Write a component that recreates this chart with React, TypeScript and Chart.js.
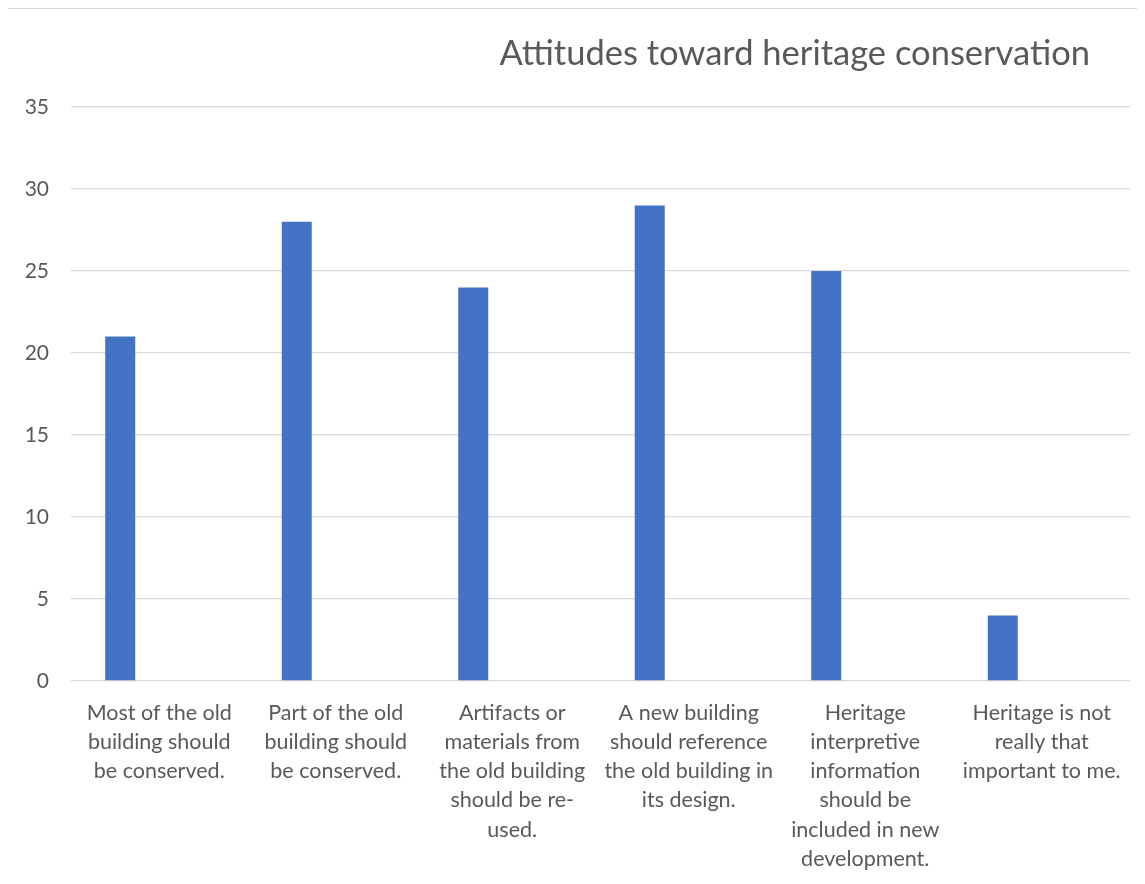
import React, { useEffect, useRef } from "react";
import { Chart, registerables } from "chart.js";

Chart.register(...registerables);

const chartTitle = "Attitudes toward heritage conservation";
const categories: string[][] = [
  ["Most of the old", "building should", "be conserved."],
  ["Part of the old", "building should", "be conserved."],
  ["Artifacts or", "materials from", "the old building", "should be re-", "used."],
  ["A new building", "should reference", "the old building in", "its design."],
  ["Heritage", "interpretive", "information", "should be", "included in new", "development."],
  ["Heritage is not", "really that", "important to me."],
];
const responses: number[] = [21, 28, 24, 29, 25, 4];
const emptySeries: (number | null)[] = [null, null, null, null, null, null];
const yTicks: number[] = [0, 5, 10, 15, 20, 25, 30, 35];

const FONT = "Lato, 'Open Sans', sans-serif";
const TEXT = "#595959";

export default function App() {
  const ref = useRef<HTMLCanvasElement | null>(null);
  useEffect(() => {
    if (!ref.current) return;
    const chart = new Chart(ref.current, {
      type: "bar",
      data: {
        labels: categories,
        datasets: [
          {
            label: "Responses",
            data: responses,
            backgroundColor: "#4472c4",
            categoryPercentage: 0.884,
            barPercentage: 0.385,
          },
          {
            label: "",
            data: emptySeries,
            backgroundColor: "#ed7d31",
            categoryPercentage: 0.884,
            barPercentage: 0.385,
          },
        ],
      },
      options: {
        animation: false,
        responsive: false,
        maintainAspectRatio: false,
        layout: { padding: { top: 98, right: 15, left: 0, bottom: 0 } },
        plugins: {
          legend: { display: false },
          title: { display: false },
          tooltip: { enabled: false },
        },
        scales: {
          x: {
            grid: { display: false, drawTicks: false },
            border: { display: false },
            ticks: {
              color: TEXT,
              font: { family: FONT, size: 21.5, lineHeight: 1.36 },
              padding: 17,
              maxRotation: 0,
              autoSkip: false,
            },
            afterFit: (s: any) => {
              s.height = 203;
            },
          },
          y: {
            min: 0,
            max: 35,
            afterBuildTicks: (s: any) => {
              s.ticks = yTicks.map((v) => ({ value: v }));
            },
            grid: { color: "#d9d9d9", lineWidth: 1.3, drawTicks: false },
            border: { display: false },
            ticks: {
              color: TEXT,
              font: { family: FONT, size: 21 },
              padding: 22,
            },
            afterFit: (s: any) => {
              s.width = 63;
            },
          },
        },
      },
    });
    return () => chart.destroy();
  }, []);

  return (
    <div style={{ position: "relative" }}>
      <div
        style={{
          position: "relative",
          marginLeft: -1,
          width: 1138,
          height: 876,
          boxSizing: "border-box",
          borderLeft: "1px solid #d9d9d9",
          borderTop: "1px solid #d9d9d9",
          overflow: "hidden",
          background: "#fff",
        }}
      >
        <div
          style={{
            position: "absolute",
            right: 55,
            top: 23,
            fontFamily: FONT,
            fontSize: 34.5,
            color: TEXT,
            whiteSpace: "nowrap",
            lineHeight: "40px",
          }}
        >
          {chartTitle}
        </div>
        <canvas ref={ref} width={1137} height={875} style={{ display: "block" }} />
      </div>
    </div>
  );
}
